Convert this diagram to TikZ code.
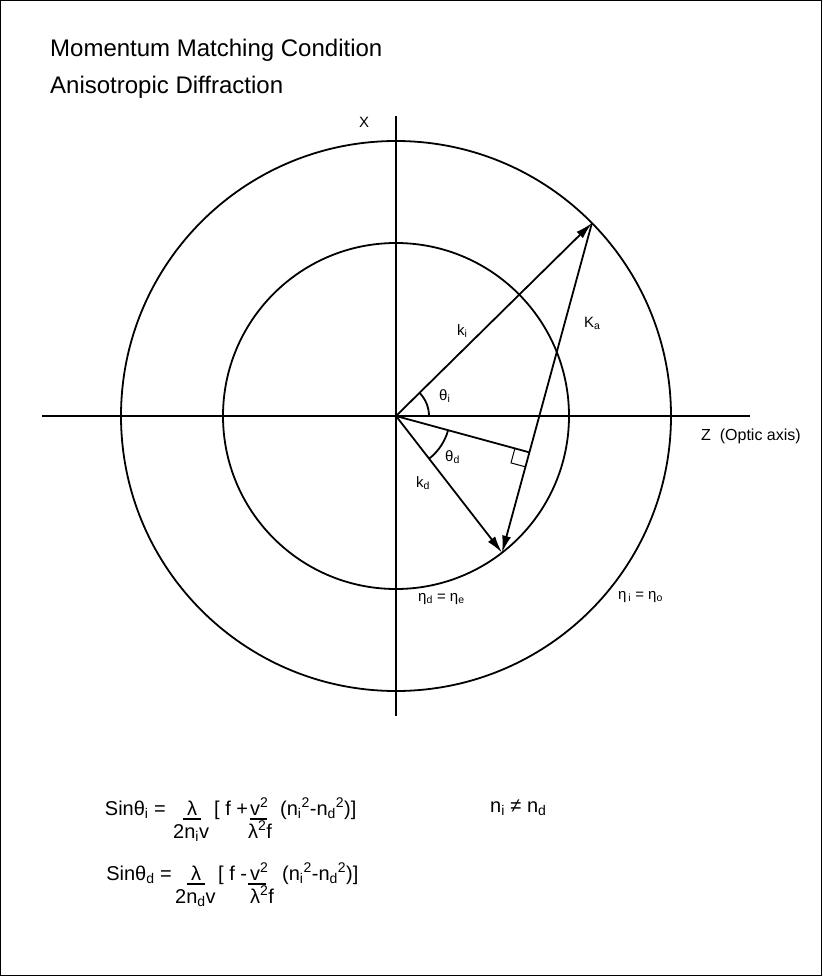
\documentclass[tikz,border=0pt]{standalone}
\usepackage{fontspec}
\setmainfont{Liberation Sans}
\usetikzlibrary{arrows.meta,calc}
\begin{document}
\begin{tikzpicture}[x=1pt,y=-1pt,
  ln/.style={line width=1.8pt},
  arr/.style={ln,-{Latex[length=17pt,width=9pt]}},
  lbl/.style={inner sep=0pt,anchor=base west,font=\fontsize{15}{18}\selectfont},
  ttl/.style={inner sep=0pt,anchor=base west,font=\fontsize{24}{28}\selectfont},
  eq/.style={inner sep=0pt,anchor=base west,font=\fontsize{20}{24}\selectfont},
  bar/.style={line width=1.6pt}]
\useasboundingbox (0,0) rectangle (822,976);
\draw[line width=1.2pt] (0.6,0.6) rectangle (821.4,975.4);
% titles
\node[ttl] (t1) at (50,57) {Momentum Matching Condition};
\node[ttl] (t2) at (50,94) {Anisotropic Diffraction};
% geometry
\coordinate (O) at (396,416);
\coordinate (xl) at (42,416);
\coordinate (xr) at (750,416);
\coordinate (yt) at (396,116);
\coordinate (yb) at (396,716);
\draw[ln] (O) circle[radius=275pt];
\draw[ln] (O) circle[radius=173pt];
\draw[ln] (xl) -- (xr);
\draw[ln] (yt) -- (yb);
\coordinate (Pi) at ($(O)+(-44.56:275)$);
\coordinate (Pd) at ($(O)+(52.2:173)$);
\coordinate (F) at ($(Pi)!(O)!(Pd)$);
\draw[ln] (O) -- (F);
\draw[arr] (O) -- (Pi);
\draw[arr] (Pi) -- (Pd);
\draw[arr] (O) -- (Pd);
% angle arcs
\draw[ln] ($(O)+(0:33)$) arc[start angle=0,end angle=-44.56,radius=33];
\draw[ln] ($(O)+(15.3:54)$) arc[start angle=15.3,end angle=52.2,radius=54];
% right angle mark
\coordinate (m1) at ($(F)!15pt!(O)$);
\coordinate (m2) at ($(F)!15pt!(Pd)$);
\coordinate (m3) at ($(m1)+(m2)-(F)$);
\draw[line width=1pt] (m1) -- (m3) -- (m2);
% labels
\node[lbl,anchor=center] (lx) at (364,122) {X};
\node[lbl] (lki) at (457,335) {k\textsubscript{i}};
\node[lbl] (lka) at (584,327) {K\textsubscript{a}};
\node[lbl] (lthi) at (439,400) {θ\textsubscript{i}};
\node[lbl] (lthd) at (445,461) {θ\textsubscript{d}};
\node[lbl] (lkd) at (416,487) {k\textsubscript{d}};
\node[lbl] (letad) at (418,601) {η\textsubscript{d} = η\textsubscript{e}};
\node[lbl] (letai) at (618,599) {η\textsubscript{\,i} = η\textsubscript{o}};
\node[lbl,font=\fontsize{16}{19}\selectfont] (lz) at (701,440) {Z\ \ (Optic axis)};
% formula 1
\node[eq,anchor=base east] (s1) at (166,815) {Sinθ\textsubscript{i} =};
\node[eq,anchor=base] (l1) at (192,815) {λ};
\draw[bar] (183,819) -- (201,819);
\node[eq] (b1) at (214,815) {[ f +};
\node[eq] (v1) at (250,815) {v\textsuperscript{2}};
\draw[bar] (250,819) -- (267,819);
\node[eq] (p1) at (280,815) {(n\textsubscript{i}\textsuperscript{2}-n\textsubscript{d}\textsuperscript{2})]};
\node[eq] (d1) at (173,838) {2n\textsubscript{i}v};
\node[eq] (e1) at (248,838) {λ\textsuperscript{2}f};
\node[eq] (ne) at (490,812) {n\textsubscript{i} ≠ n\textsubscript{d}};
% formula 2
\node[eq,anchor=base east] (s2) at (172,880) {Sinθ\textsubscript{d} =};
\node[eq,anchor=base] (l2) at (196,880) {λ};
\draw[bar] (187,884) -- (205,884);
\node[eq] (b2) at (218,880) {[ f -};
\node[eq] (v2) at (250,880) {v\textsuperscript{2}};
\draw[bar] (248,884) -- (266,884);
\node[eq] (p2) at (282,880) {(n\textsubscript{i}\textsuperscript{2}-n\textsubscript{d}\textsuperscript{2})]};
\node[eq] (d2) at (175,903) {2n\textsubscript{d}v};
\node[eq] (e2) at (250,903) {λ\textsuperscript{2}f};
\end{tikzpicture}
\end{document}
